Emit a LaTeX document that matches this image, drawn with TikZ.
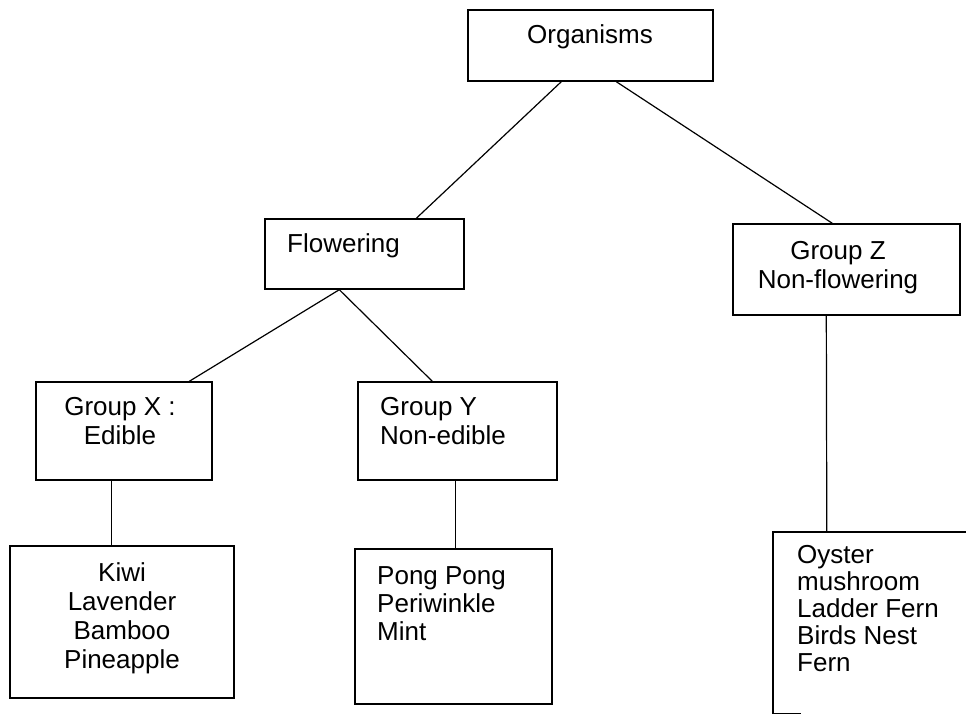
\documentclass[tikz,border=0pt]{standalone}
\usepackage{fontspec}
\setmainfont{Liberation Sans}
\begin{document}
\begin{tikzpicture}[x=1pt,y=-1pt,
  box/.style={draw=black, line width=1.4pt, inner sep=0pt, minimum width=#1},
  openbox/.style={inner sep=0pt, minimum width=#1},
  conn/.style={draw=black, line width=1.2pt},
  edge/.style={draw=black, line width=1.4pt},
  txt/.style={inner sep=0pt, font=\fontsize{26}{29}\selectfont}]
\clip (0,0) rectangle (966,715);
\fill[white] (0,0) rectangle (966,715);
% boxes
\node[box=245pt, minimum height=71pt] (org) at (590.5,45.5) {};
\node[box=199pt, minimum height=70pt] (flw) at (364.5,254) {};
\node[box=227pt, minimum height=91pt] (grz) at (846.5,269.5) {};
\node[box=176pt, minimum height=98pt] (grx) at (124,431) {};
\node[box=199pt, minimum height=98pt] (gry) at (457.5,431) {};
\node[box=224pt, minimum height=152pt] (kiwi) at (122,622) {};
\node[box=197pt, minimum height=155pt] (pong) at (453.5,626.5) {};
\node[openbox=227pt, minimum height=181pt] (oys) at (886.5,622.5) {};
\draw[edge] (oys.north east) -- (oys.north west) -- (oys.south west) -- ([xshift=28pt]oys.south west);
% texts
\node[txt] (orgt) at (590,37) {Organisms};
\node[txt, anchor=west] (flwt) at (287,246) {Flowering};
\node[txt, align=center] (grzt) at (838,268) {Group Z\\Non-flowering};
\node[txt, align=center] (grxt) at (120,421) {Group X :\\Edible};
\node[txt, align=left, anchor=west] (gryt) at (380,421) {Group Y\\Non-edible};
\node[txt, align=center] (kiwit) at (122,618) {Kiwi\\Lavender\\Bamboo\\Pineapple};
\node[txt, align=left, anchor=west, font=\fontsize{26}{28}\selectfont] (pongt) at (377,604) {Pong Pong\\Periwinkle\\Mint};
\node[txt, align=left, anchor=north west, font=\fontsize{26}{27}\selectfont] (oyst) at (797,545) {Oyster\\mushroom\\Ladder Fern\\Birds Nest\\Fern};
% connectors
\draw[conn] ([xshift=94pt]org.south west) -- ([xshift=152pt]flw.north west);
\draw[conn] ([xshift=149pt]org.south west) -- ([xshift=100pt]grz.north west);
\draw[conn] ([xshift=75pt]flw.south west) -- ([xshift=154pt]grx.north west);
\draw[conn] ([xshift=75pt]flw.south west) -- ([xshift=75pt]gry.north west);
\draw[conn] ([xshift=76pt]grx.south west) -- ([xshift=102pt]kiwi.north west);
\draw[conn] ([xshift=98pt]gry.south west) -- ([xshift=101pt]pong.north west);
\draw[conn] ([xshift=94pt]grz.south west) -- ([xshift=54pt]oys.north west);
\end{tikzpicture}
\end{document}
